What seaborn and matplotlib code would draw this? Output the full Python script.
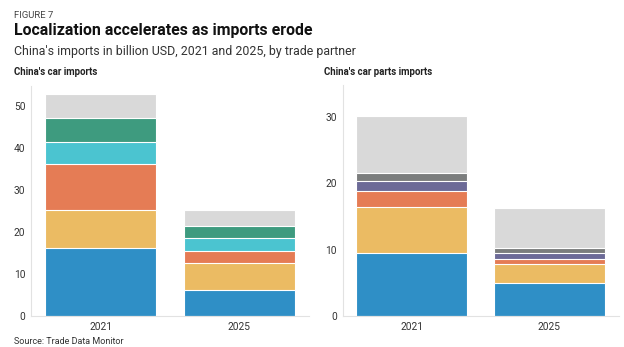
import numpy as np
import pandas as pd
import matplotlib
matplotlib.use("Agg")
import matplotlib.pyplot as plt
import seaborn as sns

sns.set_theme(style="white")
plt.rcParams["font.family"] = ["Roboto", "DejaVu Sans"]

years = ["2021", "2025"]

# China's car imports, billion USD, stacked by trade partner (bottom to top)
car_layers = [
    [16.2, 6.2],
    [9.1, 6.5],
    [11.0, 2.7],
    [5.2, 3.2],
    [5.7, 2.9],
    [5.8, 3.7],
]
car_colors = ["#2f8fc6", "#ebbb63", "#e57c55", "#4bc4d0", "#3e9b7f", "#d9d9d9"]

# China's car parts imports, billion USD, stacked by trade partner (bottom to top)
parts_layers = [
    [9.5, 4.9],
    [6.9, 2.9],
    [2.5, 0.8],
    [1.5, 0.9],
    [1.2, 0.8],
    [8.5, 5.9],
]
parts_colors = ["#2f8fc6", "#ebbb63", "#e57c55", "#6c6a97", "#7b7d7d", "#d9d9d9"]


def stacked(ax, layers, colors, ymax, ticks, title, title_x):
    tops = np.cumsum(np.array(layers), axis=0)
    # draw the tallest cumulative bars first so each lower layer sits on top
    for i in range(len(layers) - 1, -1, -1):
        df = pd.DataFrame({"year": years, "value": tops[i]})
        sns.barplot(data=df, x="year", y="value", color=colors[i], ax=ax,
                    width=0.8, saturation=1, edgecolor="white", linewidth=0.8)
    ax.set_xlim(-0.5, 1.5)
    ax.set_ylim(0, ymax)
    ax.set_yticks(ticks)
    ax.set_xlabel("")
    ax.set_ylabel("")
    ax.tick_params(axis="both", length=0, labelsize=7.3, colors="#333333", pad=4)
    for s in ["top", "right"]:
        ax.spines[s].set_visible(False)
    for s in ["left", "bottom"]:
        ax.spines[s].set_color("#e2e2e2")
        ax.spines[s].set_linewidth(0.8)
    ax.figure.text(title_x, 1 - 72 / 347, title, fontsize=6.9, fontweight="bold",
                   color="#222222", va="center", ha="left")


fig = plt.figure(figsize=(6.24, 3.47), dpi=100)
ax1 = fig.add_axes([31 / 624, 1 - 316 / 347, 278 / 624, 230 / 347])
ax2 = fig.add_axes([342.5 / 624, 1 - 316 / 347, 276 / 624, 231 / 347])

stacked(ax1, car_layers, car_colors, 54.8, [0, 10, 20, 30, 40, 50],
        "China's car imports", 14 / 624)
stacked(ax2, parts_layers, parts_colors, 34.8, [0, 10, 20, 30],
        "China's car parts imports", 324 / 624)

fig.text(14 / 624, 1 - 15 / 347, "FIGURE 7", fontsize=6.8, color="#444444",
         va="center", ha="left")
fig.text(14 / 624, 1 - 31 / 347, "Localization accelerates as imports erode",
         fontsize=11.4, fontweight="bold", color="#111111", va="center", ha="left")
fig.text(14 / 624, 1 - 52 / 347,
         "China's imports in billion USD, 2021 and 2025, by trade partner",
         fontsize=8.9, color="#333333", va="center", ha="left")
fig.text(14 / 624, 1 - 341 / 347, "Source: Trade Data Monitor", fontsize=6.5,
         color="#333333", va="center", ha="left")

fig.savefig("out.png", dpi=100)
